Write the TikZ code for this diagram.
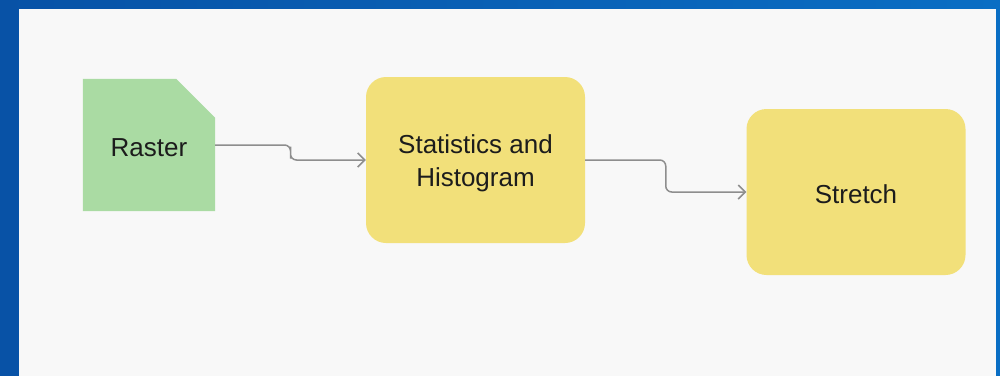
\documentclass[tikz,border=0pt]{standalone}
\usepackage{fontspec}
\setmainfont{Liberation Sans}
\usetikzlibrary{arrows.meta,calc}
\definecolor{frameL}{HTML}{0852A6}
\definecolor{frameR}{HTML}{0A6EC4}
\definecolor{panel}{HTML}{F8F8F8}
\definecolor{rastergreen}{HTML}{AADBA3}
\definecolor{toolyellow}{HTML}{F2E07A}
\definecolor{linkgray}{HTML}{8E8E8E}
\definecolor{labeltext}{HTML}{1C1C1C}
\tikzset{
  label/.style={font=\fontsize{26}{33}\selectfont, text=labeltext, align=center},
  toolbox/.style={fill=toolyellow, rounded corners=20pt, minimum width=219pt, minimum height=166pt, inner sep=0pt},
  datanode/.style={minimum width=132pt, minimum height=132pt, inner sep=0pt},
  conn/.style={draw=linkgray, line width=1.5pt, rounded corners=6pt,
    -{Straight Barb[length=7pt,width=14pt,line width=1.5pt]}},
}
\begin{document}
\begin{tikzpicture}[x=1pt,y=-1pt]
\useasboundingbox (0,0) rectangle (1000,375);
% window frame and canvas
\shade[left color=frameL, right color=frameR] (0,0) rectangle (1000,375);
\fill[panel] (19,9) rectangle (996,376);
% raster dataset (folded-corner sheet)
\node[datanode] (r) at (149,145) {};
\fill[rastergreen] (r.south west) -- (r.north west) -- ([xshift=-39pt]r.north east)
  -- ([yshift=-39pt]r.north east) -- (r.south east) -- cycle;
\node[label] (rl) at ([yshift=-3pt]r.center) {Raster};
% processing tools
\node[toolbox] (s) at (475.5,160) {};
\node[label] (sl) at ([yshift=-3pt]s.center) {Statistics and\\Histogram};
\node[toolbox] (t) at (856,192) {};
\node[label] (tl) at ([yshift=-2pt]t.center) {Stretch};
% connectors
\draw[conn] (r.east) -| ($(r.east)!0.5!(s.west)$) |- (s.west);
\draw[conn] (s.east) -| ($(s.east)!0.5!(t.west)$) |- (t.west);
\end{tikzpicture}
\end{document}
